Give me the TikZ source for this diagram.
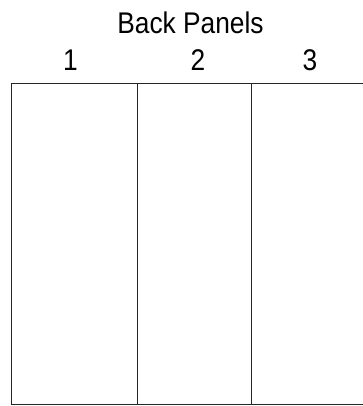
\documentclass[tikz,border=0pt]{standalone}
\usepackage{fontspec}
\setmainfont{Liberation Sans}[FakeStretch=0.88]
\begin{document}
\begin{tikzpicture}[x=1bp,y=1bp,
  lbl/.style={inner sep=0pt, anchor=base, font=\fontsize{30}{32}\selectfont},
  panel/.style={draw=black!85, line width=1bp}]
\useasboundingbox (0,0) rectangle (363,406);
\clip (0,0) rectangle (363,406);
\node[lbl] (title) at (190.5,373) {Back Panels};
\node[lbl] (n1) at (70.5,336) {1};
\node[lbl] (n2) at (198,336) {2};
\node[lbl] (n3) at (310,336) {3};
\coordinate (bl) at (11.5,2);
\coordinate (tr) at (368,322);
\draw[panel] (bl) rectangle (tr);
\coordinate (a1) at (137,2);
\coordinate (a2) at (137,322);
\coordinate (b1) at (251,2);
\coordinate (b2) at (251,322);
\draw[panel] (a1) -- (a2);
\draw[panel] (b1) -- (b2);
\end{tikzpicture}
\end{document}
